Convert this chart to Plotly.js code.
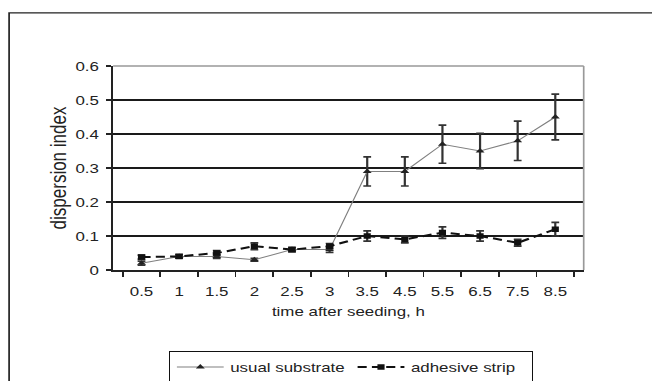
<!DOCTYPE html>
<html>
<head>
<meta charset="utf-8">
<script src="https://cdn.plot.ly/plotly-3.0.1.min.js"></script>
<style>
html,body{margin:0;padding:0;background:#fff;overflow:hidden;width:652px;height:381px;}
#chart{width:502px;height:381px;transform:scale(1.3,1);transform-origin:0 0;}
</style>
</head>
<body>
<div id="chart"></div>
<script>
const timeLabels = ["0.5","1","1.5","2","2.5","3","3.5","4.5","5.5","6.5","7.5","8.5"];
const usualValues = [0.02,0.04,0.04,0.03,0.06,0.06,0.29,0.29,0.37,0.35,0.38,0.45];
const usualErrors = [0.006,0.005,0.006,0.004,0.006,0.008,0.043,0.043,0.056,0.052,0.058,0.067];
const stripValues = [0.038,0.04,0.05,0.07,0.06,0.07,0.10,0.09,0.11,0.10,0.08,0.12];
const stripErrors = [0.006,0.005,0.007,0.01,0.006,0.008,0.015,0.01,0.017,0.015,0.01,0.02];

const font = {family: "Liberation Sans, Arial, sans-serif", size: 13, color: "#222"};

const traces = [
  {
    x: timeLabels, y: usualValues, name: "usual substrate", type: "scatter", mode: "lines+markers",
    line: {color: "#808080", width: 1},
    marker: {symbol: "triangle-up", size: 6, color: "#222"},
    error_y: {type: "data", array: usualErrors, visible: true, color: "#333", thickness: 1.7, width: 3}
  },
  {
    x: timeLabels, y: stripValues, name: "adhesive strip", type: "scatter", mode: "lines+markers",
    line: {color: "#111", width: 2, dash: "7px,4px"},
    marker: {symbol: "square", size: 5.5, color: "#111"},
    error_y: {type: "data", array: stripErrors, visible: true, color: "#333", thickness: 1.7, width: 3}
  }
];

const layout = {
  width: 502, height: 381,
  margin: {l: 87, r: 53, t: 66, b: 111, autoexpand: false},
  paper_bgcolor: "#fff", plot_bgcolor: "#fff",
  font: font,
  showlegend: true,
  legend: {
    orientation: "h", x: 0.119, xanchor: "left", y: -0.397, yanchor: "top",
    bordercolor: "#111", borderwidth: 1, font: font, itemwidth: 36,
    entrywidth: 88, entrywidthmode: "pixels"
  },
  xaxis: {
    type: "category", tickson: "boundaries", ticks: "outside", ticklen: 5, tickcolor: "#222", tickwidth: 1.3,
    showgrid: false, showline: true, linecolor: "#222", linewidth: 1.5, zeroline: false,
    ticklabelstandoff: 9, automargin: false,
    title: {text: "time after seeding, h", font: font, standoff: 9},
    tickfont: font
  },
  yaxis: {
    range: [0, 0.6], dtick: 0.1, ticks: "outside", ticklen: 4, tickcolor: "#222", tickwidth: 1.3,
    showgrid: true, gridcolor: "#1a1a1a", gridwidth: 1.5, showline: true, linecolor: "#222", linewidth: 1.3,
    zeroline: false, ticklabelstandoff: 3, automargin: false,
    title: {text: "dispersion index", font: {family: font.family, size: 17, color: "#222"}, standoff: 2}, tickfont: font
  },
  shapes: [
    {type: "rect", xref: "paper", yref: "paper", x0: -0.221, x1: 1.3, y0: -0.8, y1: 1.26,
     line: {color: "#222", width: 1.3}, layer: "below"},
    {type: "line", xref: "paper", yref: "paper", x0: 0, x1: 1, y0: 1, y1: 1, line: {color: "#999", width: 1.5}},
    {type: "line", xref: "paper", yref: "paper", x0: 1, x1: 1, y0: 0, y1: 1, line: {color: "#999", width: 1.3}}
  ]
};

Plotly.newPlot("chart", traces, layout, {displayModeBar: false, staticPlot: true});
</script>
</body>
</html>
